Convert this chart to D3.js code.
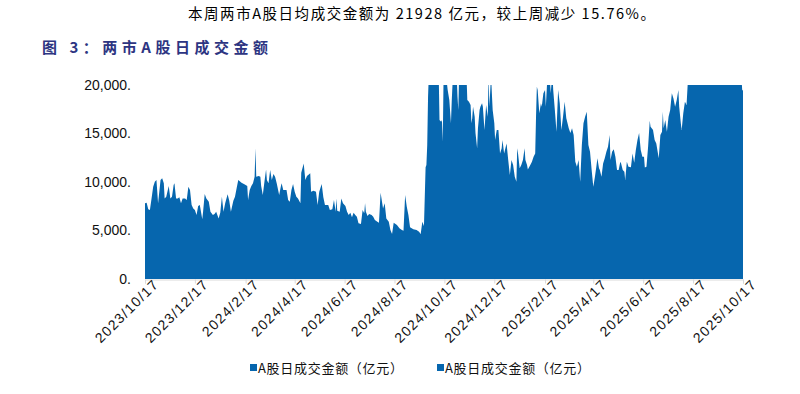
<!DOCTYPE html>
<html>
<head>
<meta charset="utf-8">
<script src="https://cdn.jsdelivr.net/npm/d3@7"></script>
<style>
  body { margin: 0; background: #fff; }
  svg { display: block; }
</style>
</head>
<body>
<div id="chart"></div>
<script>
// daily turnover of both markets, 亿元 (values above 20,000 are clipped by the axis)
const dates = [
  "2023-10-17","2023-10-19","2023-10-21","2023-10-23","2023-10-25","2023-10-27","2023-10-29","2023-10-31",
  "2023-11-02","2023-11-05","2023-11-07","2023-11-09","2023-11-10","2023-11-12","2023-11-15","2023-11-17",
  "2023-11-19","2023-11-21","2023-11-22","2023-11-24","2023-11-26","2023-11-28","2023-11-30",
  "2023-12-02","2023-12-05","2023-12-07","2023-12-09","2023-12-11","2023-12-13","2023-12-15","2023-12-17",
  "2023-12-19","2023-12-21","2023-12-23","2023-12-26","2023-12-27","2023-12-29","2023-12-31",
  "2024-01-03","2024-01-05","2024-01-08","2024-01-10","2024-01-12","2024-01-15","2024-01-17","2024-01-19",
  "2024-01-21","2024-01-23","2024-01-26","2024-01-28","2024-01-30",
  "2024-02-02","2024-02-04","2024-02-06","2024-02-08","2024-02-12","2024-02-16","2024-02-19","2024-02-20",
  "2024-02-22","2024-02-24","2024-02-26","2024-02-28","2024-02-29",
  "2024-03-01","2024-03-04","2024-03-06","2024-03-07","2024-03-09","2024-03-11","2024-03-13","2024-03-14",
  "2024-03-16","2024-03-18","2024-03-20","2024-03-22","2024-03-24","2024-03-26","2024-03-29","2024-03-31",
  "2024-04-01","2024-04-03","2024-04-07","2024-04-09","2024-04-11","2024-04-13","2024-04-15","2024-04-17",
  "2024-04-19","2024-04-21","2024-04-24","2024-04-25","2024-04-28","2024-04-30",
  "2024-05-02","2024-05-06","2024-05-07","2024-05-10","2024-05-13","2024-05-15","2024-05-17","2024-05-20",
  "2024-05-22","2024-05-24","2024-05-28","2024-05-30",
  "2024-06-02","2024-06-04","2024-06-06","2024-06-07","2024-06-08","2024-06-11","2024-06-13","2024-06-15",
  "2024-06-18","2024-06-20","2024-06-22","2024-06-24","2024-06-26","2024-06-28","2024-06-30",
  "2024-07-02","2024-07-04","2024-07-07","2024-07-09","2024-07-11","2024-07-12","2024-07-13","2024-07-15",
  "2024-07-17","2024-07-20","2024-07-22","2024-07-24","2024-07-27","2024-07-29","2024-07-31",
  "2024-08-02","2024-08-03","2024-08-05","2024-08-07","2024-08-10","2024-08-12","2024-08-14","2024-08-16",
  "2024-08-20","2024-08-23","2024-08-26","2024-08-28","2024-08-30",
  "2024-09-01","2024-09-03","2024-09-05","2024-09-09","2024-09-13","2024-09-16","2024-09-18","2024-09-20",
  "2024-09-22","2024-09-24","2024-09-25","2024-09-26","2024-09-27","2024-09-30",
  "2024-10-08","2024-10-09","2024-10-10","2024-10-11","2024-10-13","2024-10-14","2024-10-15","2024-10-16",
  "2024-10-19","2024-10-21","2024-10-23","2024-10-25","2024-10-26","2024-10-28","2024-10-30",
  "2024-11-01","2024-11-02","2024-11-03","2024-11-04","2024-11-06","2024-11-09","2024-11-11","2024-11-13",
  "2024-11-14","2024-11-16","2024-11-18","2024-11-19","2024-11-20","2024-11-21","2024-11-23","2024-11-24",
  "2024-11-26","2024-11-27","2024-11-29","2024-11-30",
  "2024-12-02","2024-12-03","2024-12-05","2024-12-07","2024-12-09","2024-12-10","2024-12-11","2024-12-13",
  "2024-12-14","2024-12-15","2024-12-17","2024-12-18","2024-12-20","2024-12-22","2024-12-24","2024-12-26",
  "2024-12-27","2024-12-29","2024-12-31",
  "2025-01-01","2025-01-03","2025-01-05","2025-01-07","2025-01-09","2025-01-11","2025-01-13","2025-01-14",
  "2025-01-15","2025-01-17","2025-01-19","2025-01-21","2025-01-23","2025-01-24","2025-01-26","2025-01-27",
  "2025-01-30",
  "2025-02-01","2025-02-03","2025-02-05","2025-02-06","2025-02-07","2025-02-08","2025-02-10","2025-02-12",
  "2025-02-13","2025-02-15","2025-02-17","2025-02-18","2025-02-20","2025-02-23","2025-02-24","2025-02-26",
  "2025-02-27",
  "2025-03-01","2025-03-03","2025-03-05","2025-03-07","2025-03-09","2025-03-11","2025-03-13","2025-03-15",
  "2025-03-18","2025-03-20","2025-03-22","2025-03-24","2025-03-26","2025-03-28","2025-03-30",
  "2025-04-01","2025-04-03","2025-04-05","2025-04-07","2025-04-09","2025-04-11","2025-04-13","2025-04-15",
  "2025-04-17","2025-04-19","2025-04-21","2025-04-22","2025-04-24","2025-04-25","2025-04-27","2025-04-29",
  "2025-05-01","2025-05-03","2025-05-05","2025-05-07","2025-05-08","2025-05-10","2025-05-12","2025-05-14",
  "2025-05-16","2025-05-18","2025-05-20","2025-05-21","2025-05-23","2025-05-25","2025-05-26","2025-05-28",
  "2025-05-30",
  "2025-06-02","2025-06-04","2025-06-06","2025-06-08","2025-06-10","2025-06-12","2025-06-14","2025-06-16",
  "2025-06-18","2025-06-19","2025-06-21","2025-06-23","2025-06-25","2025-06-26","2025-06-29",
  "2025-07-01","2025-07-03","2025-07-06","2025-07-08","2025-07-10","2025-07-11","2025-07-12","2025-07-14",
  "2025-07-16","2025-07-18","2025-07-20","2025-07-22","2025-07-24","2025-07-26","2025-07-28","2025-07-30",
  "2025-07-31",
  "2025-08-02","2025-08-03","2025-08-05","2025-08-07","2025-08-09","2025-08-11","2025-08-14","2025-08-18",
  "2025-08-21","2025-08-25","2025-08-27","2025-08-29",
  "2025-09-02","2025-09-05","2025-09-09","2025-09-12","2025-09-16","2025-09-18","2025-09-22","2025-09-25",
  "2025-09-30",
  "2025-10-09","2025-10-10","2025-10-13","2025-10-14","2025-10-15","2025-10-16","2025-10-17"
];

const turnover = [
  7800,7870,7180,7110,8310,9520,10030,10200,
  7800,10200,10380,9860,8310,8490,9590,8310,
  8490,9690,9860,8310,8310,8420,7800,
  8310,8310,8140,9520,9170,7630,7280,7110,
  6600,7520,7630,6150,6940,8760,8310,
  7970,6940,6600,6700,6940,6250,6840,8490,
  6940,7800,8730,8070,6940,
  8070,8490,9350,10200,9930,9750,9590,8140,
  9170,9590,9860,10550,13470,
  10550,10620,10550,9590,8660,10030,11300,10200,
  9860,11240,10200,10820,10550,9860,8660,9520,
  9860,9170,9170,8140,7970,9170,9790,9000,
  8490,8310,7800,10960,11920,10200,
  10620,10890,9000,9100,9000,7630,9000,9790,
  8420,7630,7630,7110,
  7180,8140,6940,8310,7040,6940,8310,7800,
  7520,6940,6600,6840,6360,6840,6600,
  6430,5740,5670,7110,6770,7800,6940,6490,
  6700,6600,6430,6080,5910,5810,8900,
  7800,7280,7800,6250,5910,5050,4640,5810,
  5570,5220,5050,4980,8660,
  7460,6600,5330,5120,5050,4880,4640,5910,
  5460,11510,11750,13810,18790,25900,
  34500,26700,21200,16390,16220,16390,14160,21000,
  21000,19480,18450,16050,18450,22000,23000,
  21000,18790,17420,21000,24000,25000,23000,21000,
  18450,18280,17940,16050,16560,17760,16730,15050,
  13470,15530,17420,17760,
  18110,17760,15360,17940,16730,21000,17760,21000,
  19140,17420,16050,14330,15360,15360,12950,13470,
  14330,12950,13640,
  13980,12270,10720,12270,11750,10550,10030,13470,
  12950,11410,11750,12270,13470,12270,11750,11300,
  11750,
  12090,12610,12950,16730,19830,19480,17080,18110,
  17760,19140,19480,17760,21000,20500,19140,21500,
  19480,
  17420,15190,19480,18110,15360,16730,18280,16560,
  15530,15050,15530,14840,12090,11580,12270,
  10030,13810,16050,16730,17250,13810,13130,11240,
  9520,10550,11750,12440,11410,11240,10550,11920,
  12440,13130,13640,14840,12270,13130,13370,12610,
  11240,11240,12090,11920,11240,11060,10200,12090,
  11580,
  11510,12950,11990,13300,14330,15050,13300,12610,
  12610,11500,11580,13640,16320,15700,15360,
  14330,13980,12440,14840,15190,17250,15530,16390,
  15190,16730,17420,19140,18620,17760,18450,19480,
  17760,
  16050,15360,17080,18280,17940,21000,23000,28000,
  24800,31800,32000,28300,
  29000,23200,22600,25800,23700,31700,21300,23900,
  21800,
  26900,25300,23800,25900,20900,19500,19400
];

const yTicks = [0, 5000, 10000, 15000, 20000];
const xTickDates = [
  "2023-10-17","2023-12-17","2024-02-17","2024-04-17","2024-06-17","2024-08-17","2024-10-17",
  "2024-12-17","2025-02-17","2025-04-17","2025-06-17","2025-08-17","2025-10-17"
];
const headline = "本周两市A股日均成交金额为 21928 亿元，较上周减少 15.76%。";
const chartTitle = "图 3：两市A股日成交金额";
const seriesNames = ["A股日成交金额（亿元）", "A股日成交金额（亿元）"];

const W = 800, H = 394;
const blue = "#0666ae";
const parse = d3.timeParse("%Y-%m-%d");
const data = dates.map((d, i) => ({ date: parse(d), value: turnover[i] }));

const x = d3.scaleTime()
  .domain([parse("2023-10-17"), parse("2025-10-17")])
  .range([145, 743]);

const y = d3.scaleLinear()
  .domain([0, 20000])
  .range([279, 85]);

const svg = d3.select("#chart").append("svg")
  .attr("width", W)
  .attr("height", H);

// headline + figure title
svg.append("text")
  .attr("x", 188).attr("y", 19)
  .attr("textLength", 467).attr("lengthAdjust", "spacing")
  .style("font-family", "'Noto Sans CJK SC', sans-serif")
  .style("font-size", "14.5px")
  .attr("fill", "#000")
  .text(headline);

svg.append("text")
  .attr("x", 42).attr("y", 53)
  .attr("textLength", 226).attr("lengthAdjust", "spacing")
  .style("font-family", "'Noto Sans CJK SC', sans-serif")
  .style("font-size", "15px")
  .style("font-weight", "bold")
  .attr("fill", "#2d3582")
  .text(chartTitle);

// area, clipped at the top of the value axis
svg.append("clipPath").attr("id", "plot-clip")
  .append("rect")
  .attr("x", x.range()[0]).attr("y", y(20000))
  .attr("width", x.range()[1] - x.range()[0])
  .attr("height", y(0) - y(20000));

const area = d3.area()
  .x(d => x(d.date))
  .y0(y(0))
  .y1(d => y(d.value));

svg.append("path")
  .datum(data)
  .attr("clip-path", "url(#plot-clip)")
  .attr("fill", blue)
  .attr("d", area);

// y axis labels (no axis line)
svg.selectAll(".y-label")
  .data(yTicks)
  .enter().append("text")
  .attr("class", "y-label")
  .attr("x", 131)
  .attr("y", d => y(d))
  .attr("dy", "0.35em")
  .attr("text-anchor", "end")
  .style("font-family", "'Liberation Sans', Arial, sans-serif")
  .style("font-size", "14px")
  .attr("fill", "#111")
  .text(d => d3.format(",")(d) + ".");

// x axis
const xAxis = d3.axisBottom(x)
  .tickValues(xTickDates.map(parse))
  .tickSize(4)
  .tickFormat(d3.timeFormat("%Y/%-m/%-d"));

const gx = svg.append("g")
  .attr("transform", `translate(0,${y(0) + 0.5})`)
  .call(xAxis);

gx.select(".domain").attr("stroke", "#d9d9d9");
gx.selectAll(".tick line").attr("stroke", "#d9d9d9");
gx.selectAll(".tick text")
  .style("font-family", "'Liberation Sans', Arial, sans-serif")
  .style("font-size", "14px")
  .style("letter-spacing", "1.3px")
  .attr("fill", "#111")
  .attr("text-anchor", "end")
  .attr("x", 6)
  .attr("y", 9)
  .attr("dy", "0.35em")
  .attr("transform", "rotate(-45)");

// legend
const legend = svg.append("g").attr("class", "legend");
const legendX = [250, 437];
seriesNames.forEach((name, i) => {
  legend.append("rect")
    .attr("x", legendX[i]).attr("y", 364)
    .attr("width", 7).attr("height", 7)
    .attr("fill", blue);
  legend.append("text")
    .attr("x", legendX[i] + 8).attr("y", 373)
    .attr("textLength", 145).attr("lengthAdjust", "spacing")
    .style("font-family", "'Noto Sans CJK SC', sans-serif")
    .style("font-size", "13px")
    .attr("fill", "#111")
    .text(name);
});
</script>
</body>
</html>
